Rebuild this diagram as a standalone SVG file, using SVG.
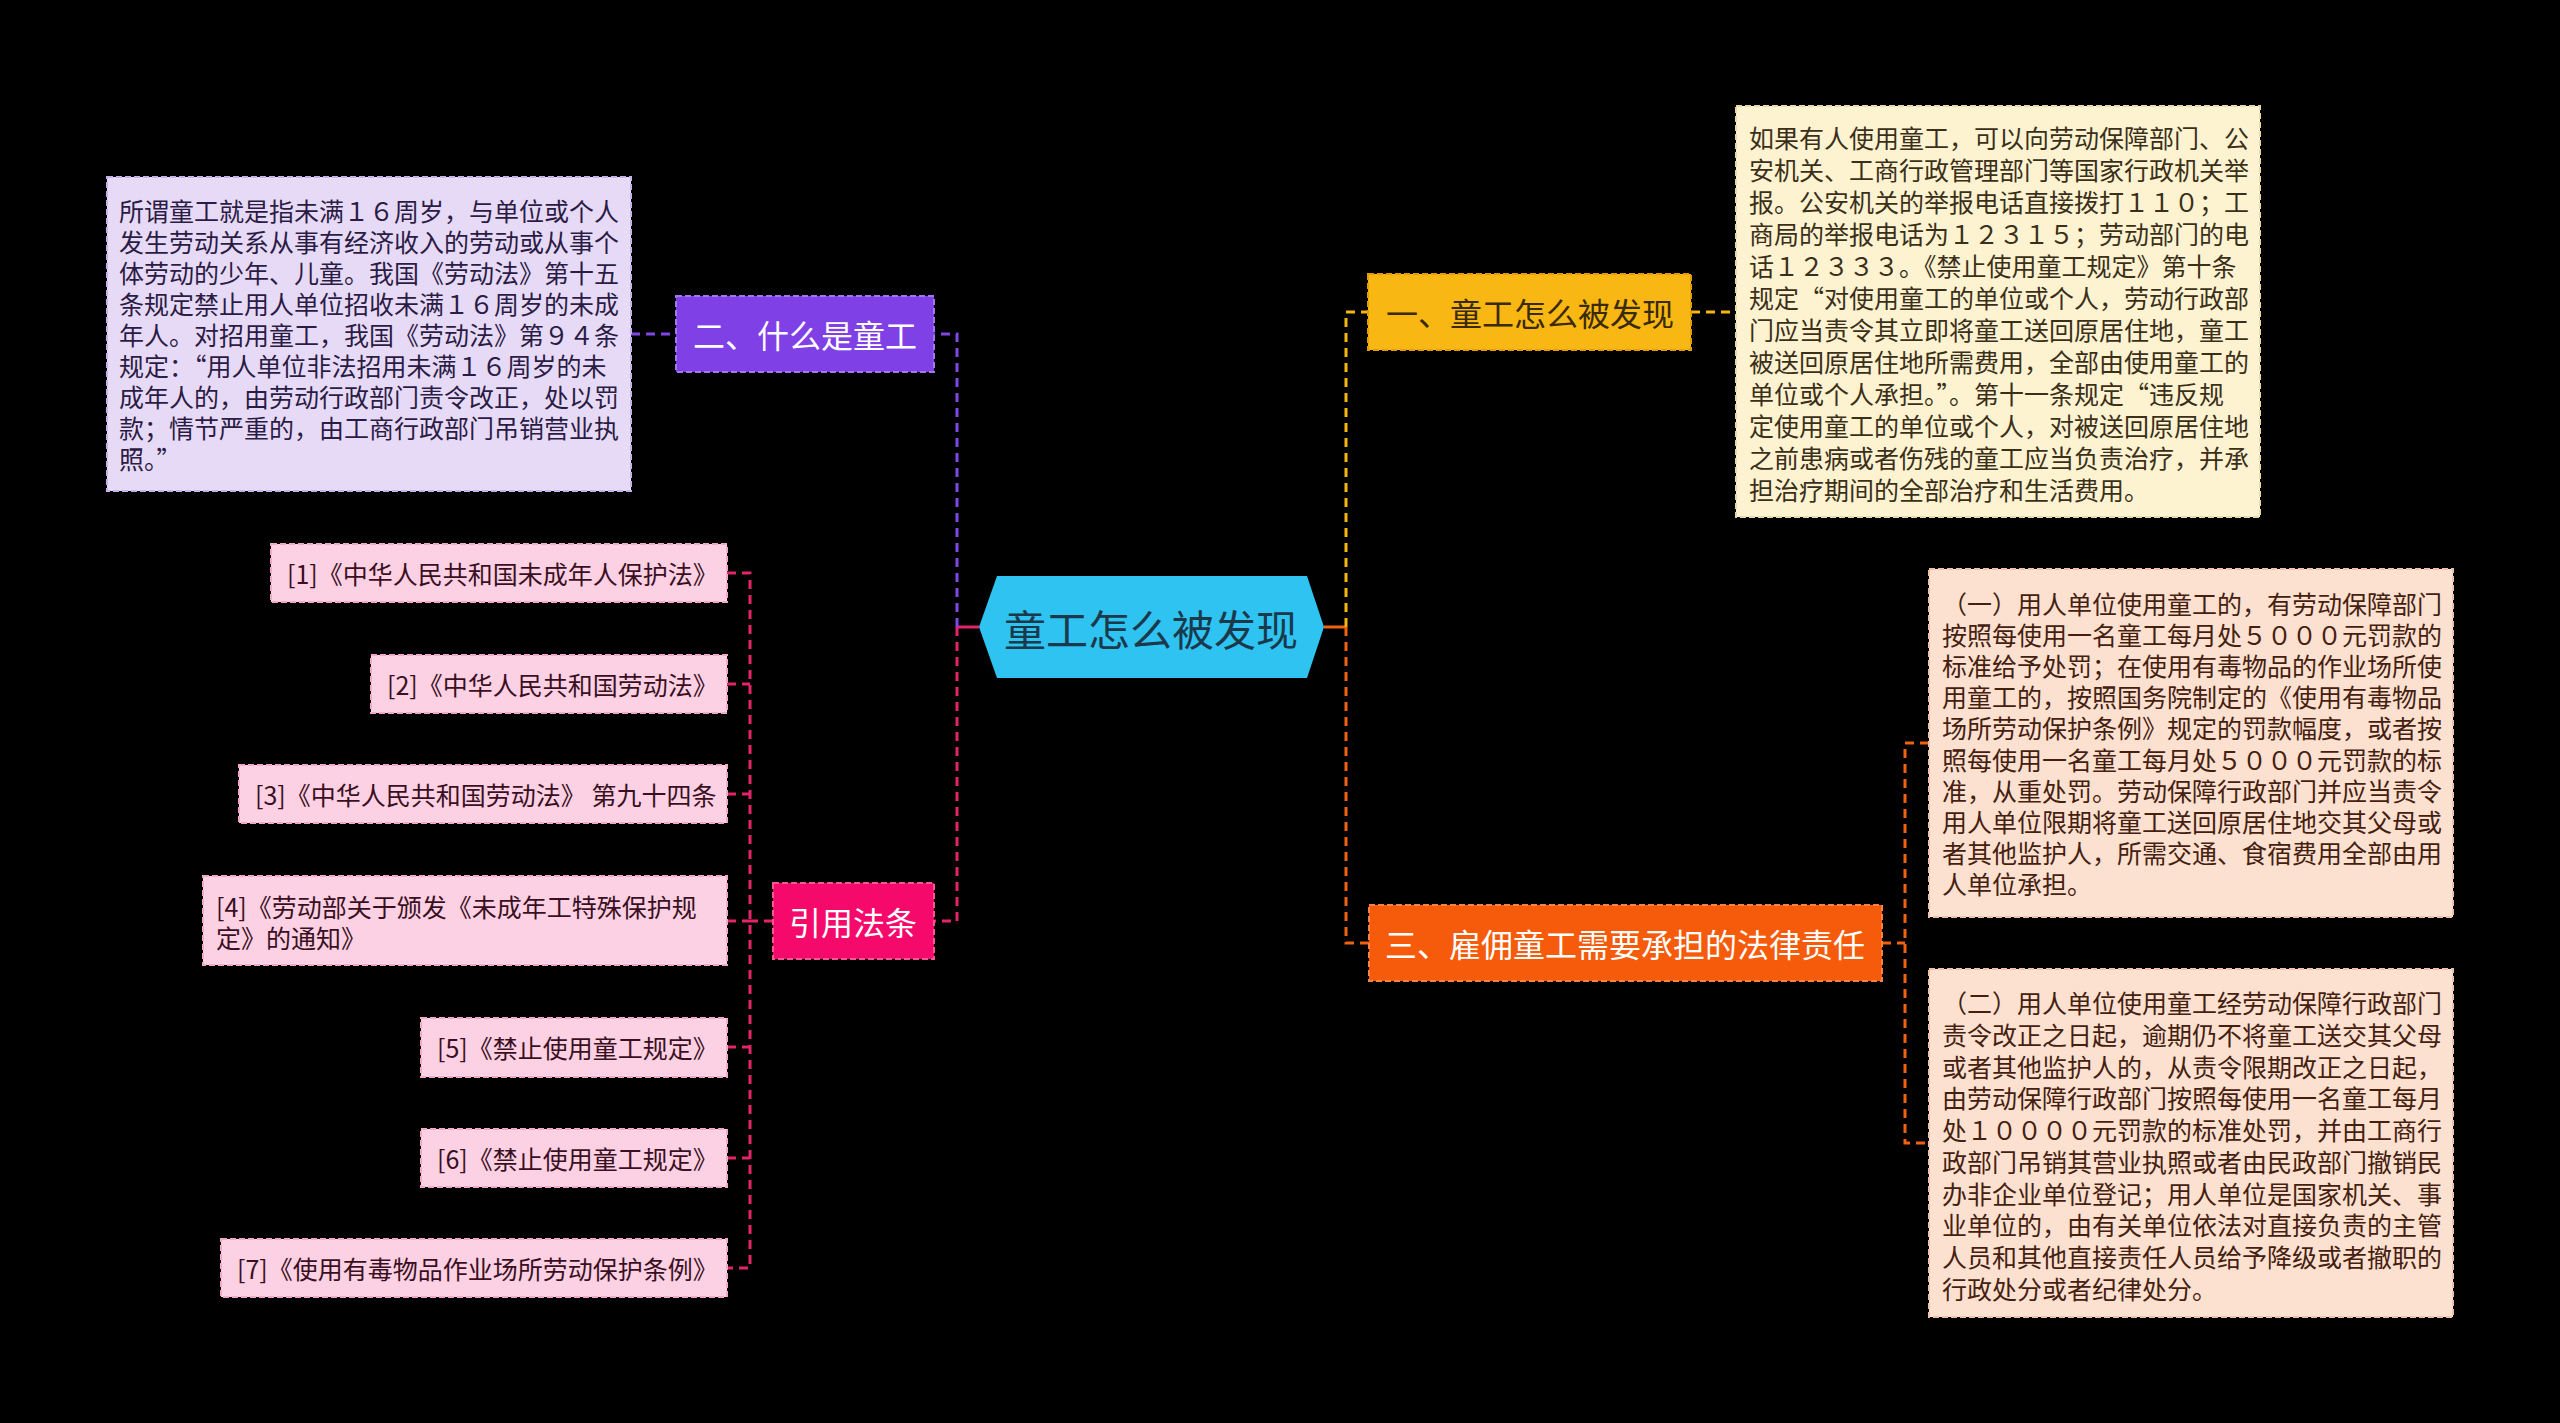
<svg xmlns="http://www.w3.org/2000/svg" width="2560" height="1423" viewBox="0 0 2560 1423">
<style>
text{font-family:"Noto Sans CJK SC","Noto Sans",sans-serif;dominant-baseline:central}
.bd{stroke-width:2;stroke-dasharray:6 3}
.cn{fill:none;stroke-width:3;stroke-dasharray:9 6}
.t26{font-size:25px}
.t25{font-size:25px}
.t32{font-size:32px}
.mid{text-anchor:middle}
</style>
<rect x="0" y="0" width="2560" height="1423" fill="#000"/>
<g id="connectors">
<line x1="957" y1="627" x2="979" y2="627" stroke="#e3246b" stroke-width="3"/>
<line x1="1324" y1="627" x2="1346" y2="627" stroke="#f0620f" stroke-width="3"/>
<path class="cn" stroke="#8047e6" d="M957,627 V334 H934"/>
<path class="cn" stroke="#e3246b" d="M957,627 V921 H934"/>
<path class="cn" stroke="#f5b60f" d="M1346,627 V312 H1368"/>
<path class="cn" stroke="#f0620f" d="M1346,627 V943 H1369"/>
<line class="cn" stroke="#8047e6" x1="631" y1="334" x2="676" y2="334"/>
<line class="cn" stroke="#f5b60f" x1="1691" y1="312" x2="1736" y2="312"/>
<line class="cn" stroke="#f0620f" x1="1882" y1="943" x2="1905" y2="943"/>
<path class="cn" stroke="#f0620f" d="M1929,743 H1905 V1143 H1929"/>
<line class="cn" stroke="#e3246b" x1="773" y1="921" x2="750" y2="921"/>
<path class="cn" stroke="#e3246b" d="M727,573 H750 V1268 H727"/>
<line class="cn" stroke="#e3246b" x1="727" y1="684" x2="750" y2="684"/>
<line class="cn" stroke="#e3246b" x1="727" y1="794" x2="750" y2="794"/>
<line class="cn" stroke="#e3246b" x1="727" y1="921" x2="750" y2="921"/>
<line class="cn" stroke="#e3246b" x1="727" y1="1047" x2="750" y2="1047"/>
<line class="cn" stroke="#e3246b" x1="727" y1="1158" x2="750" y2="1158"/>
</g>
<g id="root">
<polygon points="979,627 997,576 1307,576 1324,627 1307,678 997,678" fill="#2fc3f2"/>
<text class="mid" x="1151" y="627" font-size="42" fill="#1a3a4c">童工怎么被发现</text>
</g>
<g id="n2">
<rect class="bd" x="676" y="296" width="258" height="76" fill="#7f40e6" stroke="#a277f0"/>
<text class="t32 mid" x="805" y="334" fill="#fff">二、什么是童工</text>
</g>
<g id="n2-desc">
<rect class="bd" x="107" y="177" width="524" height="314" fill="#e7daf7" stroke="#c6b2ea"/>
<g class="t26" fill="#2b1c45">
<text x="119" y="210">所谓童工就是指未满１６周岁，与单位或个人</text>
<text x="119" y="241">发生劳动关系从事有经济收入的劳动或从事个</text>
<text x="119" y="272">体劳动的少年、儿童。我国《劳动法》第十五</text>
<text x="119" y="303">条规定禁止用人单位招收未满１６周岁的未成</text>
<text x="119" y="334">年人。对招用童工，我国《劳动法》第９４条</text>
<text x="119" y="365">规定：“用人单位非法招用未满１６周岁的未</text>
<text x="119" y="396">成年人的，由劳动行政部门责令改正，处以罚</text>
<text x="119" y="427">款；情节严重的，由工商行政部门吊销营业执</text>
<text x="119" y="458">照。”</text>
</g>
</g>
<g id="n1">
<rect class="bd" x="1368" y="274" width="323" height="76" fill="#f8b712" stroke="#e39d00"/>
<text class="t32 mid" x="1530" y="312" fill="#3a2a05">一、童工怎么被发现</text>
</g>
<g id="n1-desc">
<rect class="bd" x="1736" y="106" width="524" height="411" fill="#fdf3d1" stroke="#e8d9a8"/>
<g class="t26" fill="#3b2f1a">
<text x="1749" y="137">如果有人使用童工，可以向劳动保障部门、公</text>
<text x="1749" y="169">安机关、工商行政管理部门等国家行政机关举</text>
<text x="1749" y="201">报。公安机关的举报电话直接拨打１１０；工</text>
<text x="1749" y="233">商局的举报电话为１２３１５；劳动部门的电</text>
<text x="1749" y="265">话１２３３３。《禁止使用童工规定》第十条</text>
<text x="1749" y="297">规定“对使用童工的单位或个人，劳动行政部</text>
<text x="1749" y="329">门应当责令其立即将童工送回原居住地，童工</text>
<text x="1749" y="361">被送回原居住地所需费用，全部由使用童工的</text>
<text x="1749" y="393">单位或个人承担。”。第十一条规定“违反规</text>
<text x="1749" y="425">定使用童工的单位或个人，对被送回原居住地</text>
<text x="1749" y="457">之前患病或者伤残的童工应当负责治疗，并承</text>
<text x="1749" y="489">担治疗期间的全部治疗和生活费用。</text>
</g>
</g>
<g id="n3">
<rect class="bd" x="1369" y="905" width="513" height="76" fill="#f55b0b" stroke="#ff8240"/>
<text class="t32 mid" x="1625" y="943" fill="#fff">三、雇佣童工需要承担的法律责任</text>
</g>
<g id="n3-a">
<rect class="bd" x="1929" y="569" width="524" height="348" fill="#fce1d1" stroke="#efc2a8"/>
<g class="t25" fill="#45200f">
<text x="1942" y="603">（一）用人单位使用童工的，有劳动保障部门</text>
<text x="1942" y="634">按照每使用一名童工每月处５０００元罚款的</text>
<text x="1942" y="665">标准给予处罚；在使用有毒物品的作业场所使</text>
<text x="1942" y="696">用童工的，按照国务院制定的《使用有毒物品</text>
<text x="1942" y="727">场所劳动保护条例》规定的罚款幅度，或者按</text>
<text x="1942" y="759">照每使用一名童工每月处５０００元罚款的标</text>
<text x="1942" y="790">准，从重处罚。劳动保障行政部门并应当责令</text>
<text x="1942" y="821">用人单位限期将童工送回原居住地交其父母或</text>
<text x="1942" y="852">者其他监护人，所需交通、食宿费用全部由用</text>
<text x="1942" y="883">人单位承担。</text>
</g>
</g>
<g id="n3-b">
<rect class="bd" x="1929" y="969" width="524" height="348" fill="#fce1d1" stroke="#efc2a8"/>
<g class="t25" fill="#45200f">
<text x="1942" y="1002">（二）用人单位使用童工经劳动保障行政部门</text>
<text x="1942" y="1034">责令改正之日起，逾期仍不将童工送交其父母</text>
<text x="1942" y="1066">或者其他监护人的，从责令限期改正之日起，</text>
<text x="1942" y="1097">由劳动保障行政部门按照每使用一名童工每月</text>
<text x="1942" y="1129">处１００００元罚款的标准处罚，并由工商行</text>
<text x="1942" y="1161">政部门吊销其营业执照或者由民政部门撤销民</text>
<text x="1942" y="1193">办非企业单位登记；用人单位是国家机关、事</text>
<text x="1942" y="1224">业单位的，由有关单位依法对直接负责的主管</text>
<text x="1942" y="1256">人员和其他直接责任人员给予降级或者撤职的</text>
<text x="1942" y="1288">行政处分或者纪律处分。</text>
</g>
</g>
<g id="n4">
<rect class="bd" x="773" y="883" width="161" height="76" fill="#f50a6c" stroke="#ff5594"/>
<text class="t32 mid" x="853" y="921" fill="#fff">引用法条</text>
</g>
<g id="ref1">
<rect class="bd" x="271" y="544" width="456" height="58" fill="#fcd1e3" stroke="#f0a9c7"/>
<text class="t25" x="287" y="573" fill="#3a0f22">[1]《中华人民共和国未成年人保护法》</text>
</g>
<g id="ref2">
<rect class="bd" x="371" y="655" width="356" height="58" fill="#fcd1e3" stroke="#f0a9c7"/>
<text class="t25" x="387" y="684" fill="#3a0f22">[2]《中华人民共和国劳动法》</text>
</g>
<g id="ref3">
<rect class="bd" x="239" y="765" width="488" height="58" fill="#fcd1e3" stroke="#f0a9c7"/>
<text class="t25" x="255" y="794" fill="#3a0f22">[3]《中华人民共和国劳动法》 第九十四条</text>
</g>
<g id="ref4">
<rect class="bd" x="203" y="876" width="524" height="89" fill="#fcd1e3" stroke="#f0a9c7"/>
<text class="t25" x="216" y="906" fill="#3a0f22">[4]《劳动部关于颁发《未成年工特殊保护规</text>
<text class="t25" x="216" y="937" fill="#3a0f22">定》的通知》</text>
</g>
<g id="ref5">
<rect class="bd" x="421" y="1018" width="306" height="59" fill="#fcd1e3" stroke="#f0a9c7"/>
<text class="t25" x="437" y="1047" fill="#3a0f22">[5]《禁止使用童工规定》</text>
</g>
<g id="ref6">
<rect class="bd" x="421" y="1129" width="306" height="58" fill="#fcd1e3" stroke="#f0a9c7"/>
<text class="t25" x="437" y="1158" fill="#3a0f22">[6]《禁止使用童工规定》</text>
</g>
<g id="ref7">
<rect class="bd" x="221" y="1239" width="506" height="58" fill="#fcd1e3" stroke="#f0a9c7"/>
<text class="t25" x="237" y="1268" fill="#3a0f22">[7]《使用有毒物品作业场所劳动保护条例》</text>
</g>
</svg>
